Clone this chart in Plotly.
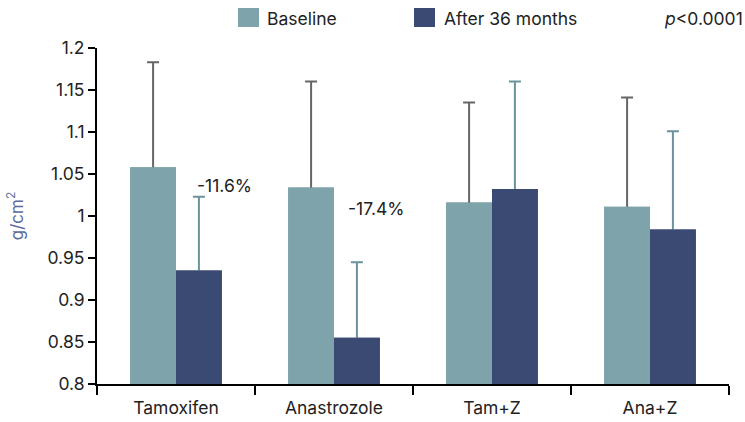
import plotly.graph_objects as go

categories = ["Tamoxifen", "Anastrozole", "Tam+Z", "Ana+Z"]
baseline = [1.058, 1.034, 1.016, 1.011]
baseline_err = [0.125, 0.126, 0.119, 0.130]
after36 = [0.935, 0.855, 1.032, 0.984]
after36_err = [0.088, 0.090, 0.128, 0.117]
change_labels = ["-11.6%", "-17.4%"]
y_ticks = [0.8, 0.85, 0.9, 0.95, 1.0, 1.05, 1.1, 1.15, 1.2]
y_tick_text = ["0.8", "0.85", "0.9", "0.95", "1", "1.05", "1.1", "1.15", "1.2"]

FONT = "Inter, Liberation Sans, Arial, sans-serif"
C_BASE = "#7fa3aa"
C_AFTER = "#3b4a72"
FS = 17.5

fig = go.Figure()
# bars carrying the (upper) error bars
fig.add_trace(go.Bar(
    x=categories, y=baseline, name="Baseline", marker_color=C_BASE,
    marker_line_width=0,
    error_y=dict(type="data", array=baseline_err, symmetric=False, arrayminus=[0.004]*4,
                 color="#666666", thickness=2, width=6),
))
fig.add_trace(go.Bar(
    x=categories, y=after36, name="After 36 months", marker_color=C_AFTER,
    marker_line_width=0,
    error_y=dict(type="data", array=after36_err, symmetric=False, arrayminus=[0.004]*4,
                 color="#6b939b", thickness=2, width=6),
))
# same bars redrawn on an overlaying axis so the error bars start cleanly at the bar tops
fig.add_trace(go.Bar(x=categories, y=baseline, marker_color=C_BASE, marker_line_width=0,
                     xaxis="x2", hoverinfo="skip"))
fig.add_trace(go.Bar(x=categories, y=after36, marker_color=C_AFTER, marker_line_width=0,
                     xaxis="x2", hoverinfo="skip"))

fig.update_layout(
    width=745, height=422,
    margin=dict(l=97, r=16, t=48, b=38, autoexpand=False),
    paper_bgcolor="white", plot_bgcolor="white",
    barmode="group", bargap=0.42, bargroupgap=0,
    showlegend=False,
    font=dict(family=FONT, size=FS, color="#222222"),
    xaxis=dict(
        showline=True, linecolor="black", linewidth=2, automargin=False,
        ticks="outside", tickson="boundaries", ticklen=9, tickwidth=2, tickcolor="black",
        tickfont=dict(size=FS, color="#222222"), showgrid=False, ticklabelstandoff=7,
    ),
    xaxis2=dict(overlaying="x", matches="x", showline=False, showticklabels=False,
                ticks="", showgrid=False, automargin=False),
    yaxis=dict(
        range=[0.8, 1.2], tickvals=y_ticks, ticktext=y_tick_text, automargin=False,
        showline=True, linecolor="black", linewidth=2,
        ticks="outside", ticklen=7, tickwidth=2, tickcolor="black",
        tickfont=dict(size=FS, color="#222222"), showgrid=False, zeroline=False,
        title=dict(text="g/cm<sup>2</sup>", font=dict(size=17, color="#5a6d9a"), standoff=20),
    ),
)

# change annotations
fig.add_annotation(x=categories[0], y=1.036, text=change_labels[0], showarrow=False,
                   xanchor="left", xshift=19, font=dict(size=FS, color="#222222"))
fig.add_annotation(x=categories[1], y=1.009, text=change_labels[1], showarrow=False,
                   xanchor="left", xshift=12, font=dict(size=FS, color="#222222"))

# manual legend
fig.add_shape(type="rect", xref="paper", yref="paper",
              x0=(238-97)/632, x1=(259-97)/632, y0=(384-27)/336, y1=(384-8)/336,
              fillcolor=C_BASE, line_width=0)
fig.add_annotation(xref="paper", yref="paper", x=(265-97)/632, y=(384-18)/336,
                   text="Baseline", showarrow=False, xanchor="left", yanchor="middle",
                   font=dict(size=FS, color="#222222"))
fig.add_shape(type="rect", xref="paper", yref="paper",
              x0=(414-97)/632, x1=(435-97)/632, y0=(384-27)/336, y1=(384-8)/336,
              fillcolor=C_AFTER, line_width=0)
fig.add_annotation(xref="paper", yref="paper", x=(442-97)/632, y=(384-18)/336,
                   text="After 36 months", showarrow=False, xanchor="left", yanchor="middle",
                   font=dict(size=FS, color="#222222"))
fig.add_annotation(xref="paper", yref="paper", x=(745-97)/632, y=(384-18)/336,
                   text="<i>p</i><0.0001", showarrow=False, xanchor="right", yanchor="middle",
                   font=dict(size=FS, color="#222222"))

fig.write_html("out.html", config={"displayModeBar": False},
               post_script="document.body.style.margin='0';")
